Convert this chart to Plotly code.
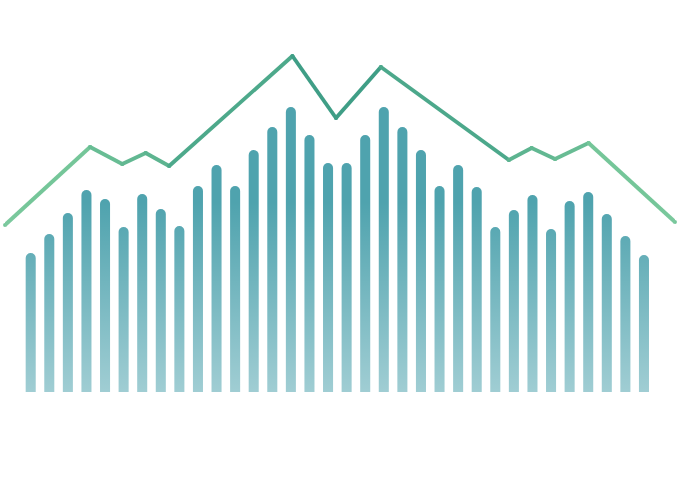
import base64
import plotly.graph_objects as go

# ---- data ----
bar_values = [139, 158, 179, 202, 193, 165, 198, 183, 166, 206, 227, 206, 242, 265, 285, 257, 229,
              229, 257, 285, 265, 242, 206, 227, 205, 165, 182, 197, 163, 191, 200, 178, 156, 137]
bar_index = list(range(len(bar_values)))

ridge_x = [0, 12.7, 17.5, 21.0, 24.5, 42.9, 49.4, 56.1, 75.2, 78.6, 82.1, 87.1, 100]
ridge_y = [167, 245, 228, 239, 226, 336, 274, 325, 232, 244, 233, 249, 170]

# ---- styles ----
BAR_COLOR = "#4fa3ae"
EDGE = (126, 205, 156)
CENTER = (63, 158, 134)


def mix(t):
    return "rgb(%d,%d,%d)" % tuple(round(e + (c - e) * t) for e, c in zip(EDGE, CENTER))


fig = go.Figure()
fig.add_trace(go.Bar(
    x=bar_index, y=bar_values, width=0.54,
    marker=dict(color=BAR_COLOR, line=dict(width=0), cornerradius=5),
    xaxis="x", yaxis="y", hoverinfo="skip",
))

# ridge line drawn segment by segment with a horizontal colour gradient
for i in range(len(ridge_x) - 1):
    mid = (ridge_x[i] + ridge_x[i + 1]) / 2
    t = 1 - abs(mid - 50) / 50
    col = mix(min(1, t * 1.15))
    fig.add_trace(go.Scatter(
        x=ridge_x[i:i + 2], y=ridge_y[i:i + 2], mode="lines+markers",
        line=dict(color=col, width=3.9),
        marker=dict(color=col, size=3.9),
        xaxis="x2", yaxis="y", cliponaxis=False, hoverinfo="skip",
    ))

svg = ('<svg xmlns="http://www.w3.org/2000/svg" width="10" height="100" viewBox="0 0 10 100" '
       'preserveAspectRatio="none"><defs><linearGradient id="g" x1="0" y1="0" x2="0" y2="1">'
       '<stop offset="0" stop-color="#ffffff" stop-opacity="0"/>'
       '<stop offset="1" stop-color="#ffffff" stop-opacity="0.46"/>'
       '</linearGradient></defs><rect width="10" height="100" fill="url(#g)"/></svg>')
src = "data:image/svg+xml;base64," + base64.b64encode(svg.encode()).decode()

fig.update_layout(
    width=680, height=480,
    margin=dict(l=5, r=5, t=42, b=88),
    paper_bgcolor="white", plot_bgcolor="white",
    showlegend=False,
    xaxis=dict(range=[-1.383, 34.67], visible=False),
    xaxis2=dict(range=[0, 100], overlaying="x", visible=False),
    yaxis=dict(range=[0, 350], visible=False),
    images=[dict(source=src, xref="paper", yref="y", x=0, y=190, sizex=1, sizey=190,
                 xanchor="left", yanchor="top", sizing="stretch", layer="above")],
)

fig.write_html("out.html", config={"displayModeBar": False},
               post_script="document.body.style.margin='0';")
